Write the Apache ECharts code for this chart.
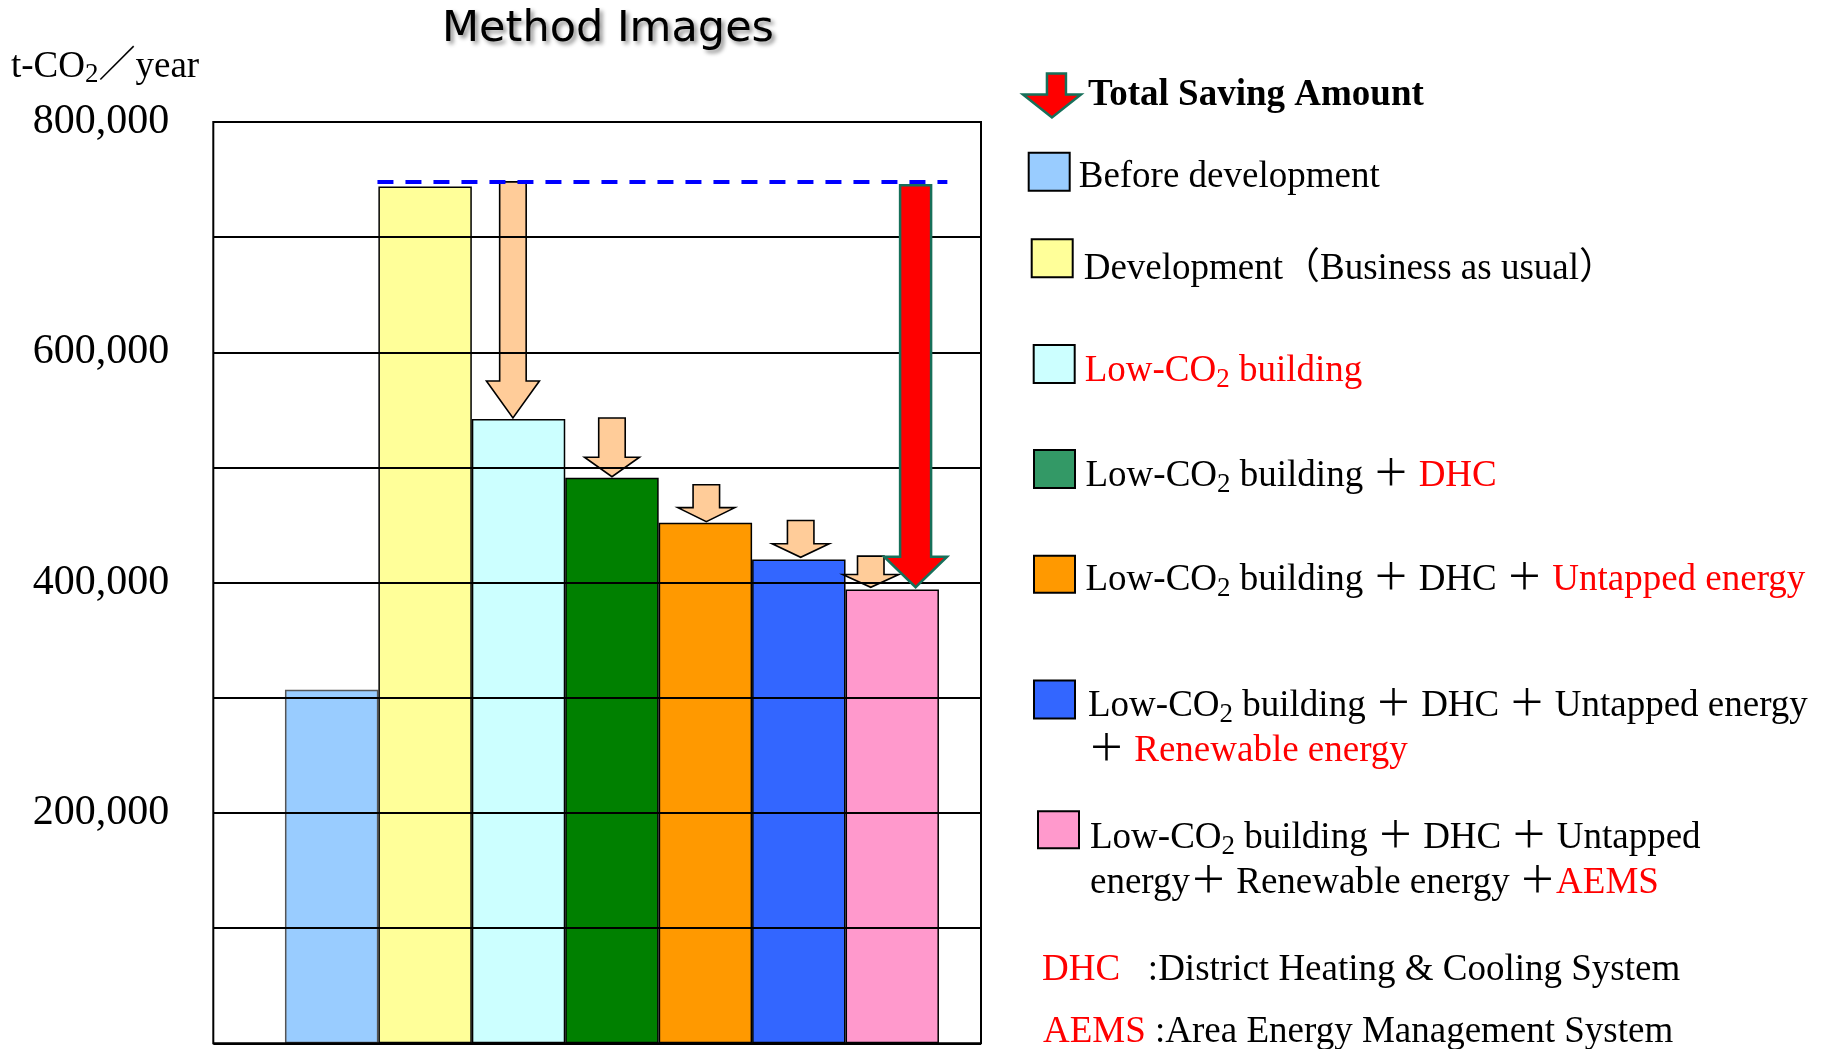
<!DOCTYPE html>
<html>
<head>
<meta charset="utf-8">
<script src="https://cdn.jsdelivr.net/npm/echarts@6/dist/echarts.min.js"></script>
<style>
html, body { margin: 0; padding: 0; background: #ffffff; }
#chart { width: 1830px; height: 1049px; }
</style>
</head>
<body>
<div id="chart"></div>
<script>
// ---------------- data ----------------
const seriesNames = [
  'Before development',
  'Development（Business as usual）',
  'Low-CO2 building',
  'Low-CO2 building＋DHC',
  'Low-CO2 building＋DHC＋Untapped energy',
  'Low-CO2 building＋DHC＋Untapped energy＋Renewable energy',
  'Low-CO2 building＋DHC＋Untapped energy＋Renewable energy＋AEMS'
];
const barPositions = [0, 1, 2, 3, 4, 5, 6];
const co2Values = [307000, 744000, 542000, 491000, 452000, 420000, 394000];
const yTickLabels = [200000, 400000, 600000, 800000];
const bauLevel = 748000;
const bauLineX = [0.49, 6.59];
const stepArrowX = [1.94, 3.0, 4.01, 5.02, 5.77];
const stepArrowFrom = [748000, 543000, 485000, 454000, 423000];
const stepArrowTo = [543000, 492000, 453000, 422000, 396000];
const totalSavingX = [6.25];
const totalSavingFrom = [745000];
const totalSavingTo = [396000];

// ---------------- styles ----------------
const SERIF = "'Liberation Serif', 'Noto Sans CJK JP', serif";
const barColors = ['#99CCFF', '#FFFF99', '#CCFFFF', '#008000', '#FF9900', '#3366FF', '#FF99CC'];
const swatchColors = ['#99CCFF', '#FFFF99', '#CCFFFF', '#339966', '#FF9900', '#3366FF', '#FF99CC'];
const PEACH = '#FFCC99';
const stepShaftPx = 26.5;
const stepHeadWidthPx = [53, 55, 57, 57, 56];
const stepHeadHeightPx = [37, 19.5, 14, 13.5, 12.7];
const redShaftPx = 31, redHeadWidthPx = 63, redHeadHeightPx = 30.6;

const base = { fontFamily: SERIF, fontSize: 37, lineHeight: 45, color: '#000', fontWeight: 'normal' };
const rich = {
  n: base,
  r: Object.assign({}, base, { color: '#FF0000' }),
  b: Object.assign({}, base, { fontWeight: 'bold' }),
  s: { fontFamily: SERIF, fontSize: 27, lineHeight: 22, verticalAlign: 'bottom', color: '#000', fontWeight: 'normal' },
  rs: { fontFamily: SERIF, fontSize: 27, lineHeight: 22, verticalAlign: 'bottom', color: '#FF0000', fontWeight: 'normal' }
};
const unitRich = {
  n: { fontFamily: SERIF, fontSize: 37, lineHeight: 42, color: '#000', fontWeight: 'normal' },
  s: { fontFamily: SERIF, fontSize: 27, lineHeight: 19, verticalAlign: 'bottom', color: '#000', fontWeight: 'normal' }
};

const legendText = {
  'Total Saving Amount': '{b|Total Saving Amount}',
  [seriesNames[0]]: '{n|Before development}',
  [seriesNames[1]]: '{n|Development（Business as usual）}',
  [seriesNames[2]]: '{r|Low-CO}{rs|2}{r| building}',
  [seriesNames[3]]: '{n|Low-CO}{s|2}{n| building ＋ }{r|DHC}',
  [seriesNames[4]]: '{n|Low-CO}{s|2}{n| building ＋ DHC ＋ }{r|Untapped energy}',
  [seriesNames[5]]: '{n|Low-CO}{s|2}{n| building ＋ DHC ＋ Untapped energy}\n{n|＋ }{r|Renewable energy}',
  [seriesNames[6]]: '{n|Low-CO}{s|2}{n| building ＋ DHC ＋ Untapped}\n{n|energy＋ Renewable energy ＋}{r|AEMS}'
};

function legendItem(name, o) {
  const L = 45;
  const content = o.lines * L;
  const dy = o.dy + 3;
  const diff = 2 * dy + content - L;
  const pt = Math.max(diff, 0), pb = Math.max(-diff, 0);
  const H = content + pt + pb;
  const fix = o.lines > 1 ? 4.5 : 0;
  return {
    data: [name],
    left: o.x, top: o.y + fix + Math.min(0, o.h / 2 - H / 2), padding: 0,
    orient: 'vertical', selectedMode: false,
    itemWidth: o.w, itemHeight: o.h,
    icon: o.icon || 'rect',
    itemStyle: { color: o.color, borderColor: o.border || '#000', borderWidth: o.bw || 2 },
    formatter: function () { return legendText[name]; },
    textStyle: {
      fontFamily: SERIF, fontSize: 37, color: '#000', lineHeight: 45,
      padding: [pt, 0, pb, o.padL],
      rich: rich
    }
  };
}

const legends = [
  legendItem('Total Saving Amount', { x: 1021.7, y: 73, w: 58, h: 44, lines: 1, dy: -3.3, padL: 2,
    icon: 'path://M24,0L43,0L43,21L58,21L29,44L0,21L24,21Z', color: '#FF0000', border: '#17705A', bw: 2.5 }),
  legendItem(seriesNames[0], { x: 1027.7, y: 152.7, w: 41, h: 38, lines: 1, dy: 2.5, padL: 4, color: swatchColors[0] }),
  legendItem(seriesNames[1], { x: 1030.7, y: 239.3, w: 41, h: 38, lines: 1, dy: 7.8, padL: 6, color: swatchColors[1] }),
  legendItem(seriesNames[2], { x: 1032.7, y: 345, w: 41, h: 38, lines: 1, dy: 3.8, padL: 5, color: swatchColors[2] }),
  legendItem(seriesNames[3], { x: 1033, y: 450, w: 41, h: 38, lines: 1, dy: 3.8, padL: 5.5, color: swatchColors[3] }),
  legendItem(seriesNames[4], { x: 1033, y: 555.7, w: 41, h: 37, lines: 1, dy: 2.6, padL: 5.5, color: swatchColors[4] }),
  legendItem(seriesNames[5], { x: 1033, y: 676, w: 41, h: 38, lines: 2, dy: 3.5, padL: 8, color: swatchColors[5] }),
  legendItem(seriesNames[6], { x: 1037, y: 806.7, w: 41, h: 37, lines: 2, dy: 5.3, padL: 6, color: swatchColors[6] })
];

function arrowPolygon(api, shaftW, headW, headH, style) {
  const p0 = api.coord([api.value(0), api.value(1)]);
  const p1 = api.coord([api.value(0), api.value(2)]);
  const cx = p0[0], y0 = p0[1], y1 = p1[1], yh = y1 - headH;
  return {
    type: 'polygon',
    shape: { points: [
      [cx - shaftW / 2, y0], [cx + shaftW / 2, y0], [cx + shaftW / 2, yh], [cx + headW / 2, yh],
      [cx, y1], [cx - headW / 2, yh], [cx - shaftW / 2, yh]
    ] },
    style: style
  };
}

const barSeries = seriesNames.map(function (name, i) {
  return {
    type: 'bar', name: name,
    data: [[barPositions[i], co2Values[i]]],
    barWidth: '100%', barGap: '-100%',
    itemStyle: { color: barColors[i], borderColor: i === 0 ? '#555' : '#000', borderWidth: 1.5 },
    z: 2, silent: true, animation: false
  };
});

const option = {
  animation: false,
  backgroundColor: '#ffffff',
  title: [
    { text: 'Method Images', left: 442, top: 8, padding: 0,
      textStyle: { fontFamily: "'DejaVu Sans', sans-serif", fontSize: 43, fontWeight: 'normal', color: '#000',
        textShadowColor: 'rgba(0,0,0,0.45)', textShadowBlur: 4, textShadowOffsetX: 3, textShadowOffsetY: 3 } },
    { text: '{n|t-CO}{s|2}{n|／year}', left: 11, top: 46, padding: 0,
      textStyle: { fontWeight: 'normal', rich: unitRich } },
    { text: '{r|DHC}{n|   :District Heating & Cooling System}', left: 1042, top: 948, padding: 0,
      textStyle: { fontWeight: 'normal', rich: rich } },
    { text: '{r|AEMS}{n| :Area Energy Management System}', left: 1043, top: 1010, padding: 0,
      textStyle: { fontWeight: 'normal', rich: rich } }
  ],
  legend: legends,
  grid: { left: 213.3, top: 122, width: 767.7, height: 921.3, show: true, borderColor: '#000', borderWidth: 2,
    backgroundColor: 'transparent', z: 4, containLabel: false, outerBoundsMode: 'none' },
  xAxis: { type: 'value', min: -1.267, max: 6.95, show: false },
  yAxis: {
    type: 'value', min: 0, max: 800000, interval: 100000, z: 4,
    axisLine: { show: false }, axisTick: { show: false },
    splitLine: { show: true, lineStyle: { color: '#000', width: 2 } },
    axisLabel: {
      margin: 44, fontFamily: SERIF, fontSize: 42, color: '#000',
      formatter: function (v) { return yTickLabels.indexOf(v) >= 0 ? v.toLocaleString('en-US') : ''; }
    }
  },
  series: barSeries.concat([
    {
      type: 'custom', name: 'Saving per measure', z: 3, silent: true,
      data: stepArrowX.map(function (x, i) { return [x, stepArrowFrom[i], stepArrowTo[i]]; }),
      encode: { x: 0, y: [1, 2] },
      renderItem: function (params, api) {
        const i = params.dataIndex;
        return arrowPolygon(api, stepShaftPx, stepHeadWidthPx[i], stepHeadHeightPx[i],
          { fill: PEACH, stroke: '#000', lineWidth: 1.6 });
      }
    },
    {
      type: 'custom', name: 'Total Saving Amount', z: 5, silent: true,
      itemStyle: { color: '#FF0000' },
      data: totalSavingX.map(function (x, i) { return [x, totalSavingFrom[i], totalSavingTo[i]]; }),
      encode: { x: 0, y: [1, 2] },
      renderItem: function (params, api) {
        return arrowPolygon(api, redShaftPx, redHeadWidthPx, redHeadHeightPx,
          { fill: '#FF0000', stroke: '#17705A', lineWidth: 2.5 });
      }
    },
    {
      type: 'line', name: 'Business-as-usual level', z: 6, silent: true,
      data: bauLineX.map(function (x) { return [x, bauLevel]; }),
      symbol: 'none', showSymbol: false,
      lineStyle: { color: '#0000FF', width: 4, type: [16, 12] }
    }
  ])
};

const chart = echarts.init(document.getElementById('chart'), null, { renderer: 'canvas' });
chart.setOption(option);
</script>
</body>
</html>
